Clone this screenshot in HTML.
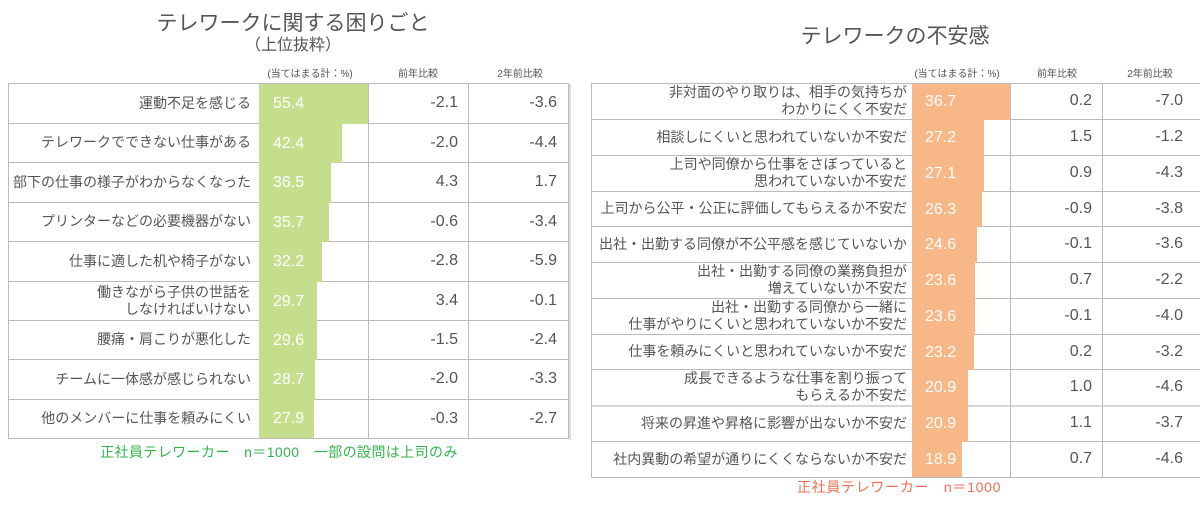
<!DOCTYPE html>
<html><head><meta charset="utf-8">
<style>
*{margin:0;padding:0;box-sizing:border-box}
body{width:1200px;height:512px;background:#fff;position:relative;overflow:hidden;font-family:"Liberation Sans","Noto Sans CJK JP",sans-serif;color:#555}
.a{position:absolute}
.hl{position:absolute;height:1px;background:#bbb}
.vl{position:absolute;width:1px;background:#bbb}
.row{position:absolute;left:0;width:1200px}
.lbl{position:absolute;top:0;bottom:0;display:flex;align-items:center;justify-content:flex-end;text-align:right;font-size:14px;line-height:17px;color:#555;white-space:nowrap}
.num{position:absolute;top:0;bottom:0;display:flex;align-items:center;justify-content:flex-end;font-family:"Liberation Sans",sans-serif;font-size:16px;color:#555}
.bar{position:absolute;top:1px;bottom:-1px;display:flex;align-items:center;color:#fff;font-family:"Liberation Sans",sans-serif;font-size:16px}
.g{background:#c4de8d;padding-left:14px}
.o{background:#f8b787;padding-left:13px}
.title{position:absolute;text-align:center;font-size:21px;line-height:26px;color:#555;white-space:nowrap}
.hd{position:absolute;font-size:10px;line-height:12px;text-align:center;color:#555;white-space:nowrap}
.L .lbl{left:8px;width:243px}
.L .c3{left:368px;width:90px}
.L .c4{left:468px;width:89px}
.L .bar{left:259px}
.R .lbl{left:591px;width:316px}
.R .c3{left:1010px;width:82px}
.R .c4{left:1102px;width:81px}
.R .bar{left:912px}
</style></head><body>

<!-- LEFT -->
<div class="title" style="left:93px;top:11px;width:400px">テレワークに関する困りごと</div>
<div class="title" style="left:193px;top:36px;width:200px;font-size:16px;line-height:20px">（上位抜粋）</div>
<div class="hd" style="left:250px;top:69px;width:120px">(当てはまる計：%)</div>
<div class="hd" style="left:378px;top:69px;width:80px">前年比較</div>
<div class="hd" style="left:480px;top:69px;width:80px">2年前比較</div>

<div class="L">
<div class="hl" style="left:8px;top:83px;width:561px"></div>
<div class="hl" style="left:8px;top:123px;width:561px"></div>
<div class="hl" style="left:8px;top:162px;width:561px"></div>
<div class="hl" style="left:8px;top:202px;width:561px"></div>
<div class="hl" style="left:8px;top:241px;width:561px"></div>
<div class="hl" style="left:8px;top:281px;width:561px"></div>
<div class="hl" style="left:8px;top:320px;width:561px"></div>
<div class="hl" style="left:8px;top:359px;width:561px"></div>
<div class="hl" style="left:8px;top:399px;width:561px"></div>
<div class="hl" style="left:8px;top:438px;width:561px"></div>
<div class="vl" style="left:8px;top:83px;height:356px"></div>
<div class="vl" style="left:259px;top:83px;height:356px"></div>
<div class="vl" style="left:368px;top:83px;height:356px"></div>
<div class="vl" style="left:468px;top:83px;height:356px"></div>
<div class="vl" style="left:568px;top:83px;height:356px"></div>
<div class="a" style="left:569px;top:84px;width:2px;height:356px;background:#ddd"></div>

<div class="row" style="top:83px;height:40px"><div class="lbl">運動不足を感じる</div><div class="bar g" style="width:109px">55.4</div><div class="num c3">-2.1</div><div class="num c4">-3.6</div></div>
<div class="row" style="top:123px;height:39px"><div class="lbl">テレワークでできない仕事がある</div><div class="bar g" style="width:83px">42.4</div><div class="num c3">-2.0</div><div class="num c4">-4.4</div></div>
<div class="row" style="top:162px;height:40px"><div class="lbl">部下の仕事の様子がわからなくなった</div><div class="bar g" style="width:72px">36.5</div><div class="num c3">4.3</div><div class="num c4">1.7</div></div>
<div class="row" style="top:202px;height:39px"><div class="lbl">プリンターなどの必要機器がない</div><div class="bar g" style="width:70px">35.7</div><div class="num c3">-0.6</div><div class="num c4">-3.4</div></div>
<div class="row" style="top:241px;height:40px"><div class="lbl">仕事に適した机や椅子がない</div><div class="bar g" style="width:63px">32.2</div><div class="num c3">-2.8</div><div class="num c4">-5.9</div></div>
<div class="row" style="top:281px;height:39px"><div class="lbl">働きながら子供の世話を<br>しなければいけない</div><div class="bar g" style="width:58px">29.7</div><div class="num c3">3.4</div><div class="num c4">-0.1</div></div>
<div class="row" style="top:320px;height:39px"><div class="lbl">腰痛・肩こりが悪化した</div><div class="bar g" style="width:58px">29.6</div><div class="num c3">-1.5</div><div class="num c4">-2.4</div></div>
<div class="row" style="top:359px;height:40px"><div class="lbl">チームに一体感が感じられない</div><div class="bar g" style="width:56px">28.7</div><div class="num c3">-2.0</div><div class="num c4">-3.3</div></div>
<div class="row" style="top:399px;height:39px"><div class="lbl">他のメンバーに仕事を頼みにくい</div><div class="bar g" style="width:55px;bottom:0">27.9</div><div class="num c3">-0.3</div><div class="num c4">-2.7</div></div>
</div>

<div class="a" style="left:29px;top:443px;width:500px;text-align:center;font-size:14px;line-height:18px;color:#34b34c;white-space:nowrap;letter-spacing:0.4px">正社員テレワーカー　n＝1000　一部の設問は上司のみ</div>

<!-- RIGHT -->
<div class="title" style="left:695px;top:24px;width:400px">テレワークの不安感</div>
<div class="hd" style="left:897px;top:69px;width:120px">(当てはまる計：%)</div>
<div class="hd" style="left:1017px;top:69px;width:80px">前年比較</div>
<div class="hd" style="left:1110px;top:69px;width:80px">2年前比較</div>

<div class="R">
<div class="hl" style="left:591px;top:83px;width:610px"></div>
<div class="hl" style="left:591px;top:119px;width:610px"></div>
<div class="hl" style="left:591px;top:155px;width:610px"></div>
<div class="hl" style="left:591px;top:191px;width:610px"></div>
<div class="hl" style="left:591px;top:226px;width:610px"></div>
<div class="hl" style="left:591px;top:262px;width:610px"></div>
<div class="hl" style="left:591px;top:298px;width:610px"></div>
<div class="hl" style="left:591px;top:334px;width:610px"></div>
<div class="hl" style="left:591px;top:369px;width:610px"></div>
<div class="hl" style="left:591px;top:405px;width:610px;height:2px;background:#d6d6d6"></div>
<div class="hl" style="left:591px;top:441px;width:610px"></div>
<div class="hl" style="left:591px;top:477px;width:610px"></div>
<div class="vl" style="left:591px;top:83px;height:395px"></div>
<div class="vl" style="left:912px;top:83px;height:395px"></div>
<div class="vl" style="left:1010px;top:83px;height:395px"></div>
<div class="vl" style="left:1102px;top:83px;height:395px"></div>

<div class="row" style="top:83px;height:36px"><div class="lbl">非対面のやり取りは、相手の気持ちが<br>わかりにくく不安だ</div><div class="bar o" style="width:98px">36.7</div><div class="num c3">0.2</div><div class="num c4">-7.0</div></div>
<div class="row" style="top:119px;height:36px"><div class="lbl">相談しにくいと思われていないか不安だ</div><div class="bar o" style="width:72px">27.2</div><div class="num c3">1.5</div><div class="num c4">-1.2</div></div>
<div class="row" style="top:155px;height:36px"><div class="lbl">上司や同僚から仕事をさぼっていると<br>思われていないか不安だ</div><div class="bar o" style="width:72px">27.1</div><div class="num c3">0.9</div><div class="num c4">-4.3</div></div>
<div class="row" style="top:191px;height:35px"><div class="lbl">上司から公平・公正に評価してもらえるか不安だ</div><div class="bar o" style="width:70px">26.3</div><div class="num c3">-0.9</div><div class="num c4">-3.8</div></div>
<div class="row" style="top:226px;height:36px"><div class="lbl">出社・出勤する同僚が不公平感を感じていないか</div><div class="bar o" style="width:65px">24.6</div><div class="num c3">-0.1</div><div class="num c4">-3.6</div></div>
<div class="row" style="top:262px;height:36px"><div class="lbl">出社・出勤する同僚の業務負担が<br>増えていないか不安だ</div><div class="bar o" style="width:63px">23.6</div><div class="num c3">0.7</div><div class="num c4">-2.2</div></div>
<div class="row" style="top:298px;height:36px"><div class="lbl">出社・出勤する同僚から一緒に<br>仕事がやりにくいと思われていないか不安だ</div><div class="bar o" style="width:63px">23.6</div><div class="num c3">-0.1</div><div class="num c4">-4.0</div></div>
<div class="row" style="top:334px;height:35px"><div class="lbl">仕事を頼みにくいと思われていないか不安だ</div><div class="bar o" style="width:62px">23.2</div><div class="num c3">0.2</div><div class="num c4">-3.2</div></div>
<div class="row" style="top:369px;height:36px"><div class="lbl">成長できるような仕事を割り振って<br>もらえるか不安だ</div><div class="bar o" style="width:56px">20.9</div><div class="num c3">1.0</div><div class="num c4">-4.6</div></div>
<div class="row" style="top:405px;height:36px"><div class="lbl">将来の昇進や昇格に影響が出ないか不安だ</div><div class="bar o" style="width:56px">20.9</div><div class="num c3">1.1</div><div class="num c4">-3.7</div></div>
<div class="row" style="top:441px;height:36px"><div class="lbl">社内異動の希望が通りにくくならないか不安だ</div><div class="bar o" style="width:50px;bottom:0">18.9</div><div class="num c3">0.7</div><div class="num c4">-4.6</div></div>
</div>

<div class="a" style="left:699px;top:478px;width:400px;text-align:center;font-size:14px;line-height:18px;color:#f26d52;white-space:nowrap;letter-spacing:0.7px">正社員テレワーカー　n＝1000</div>

</body></html>
